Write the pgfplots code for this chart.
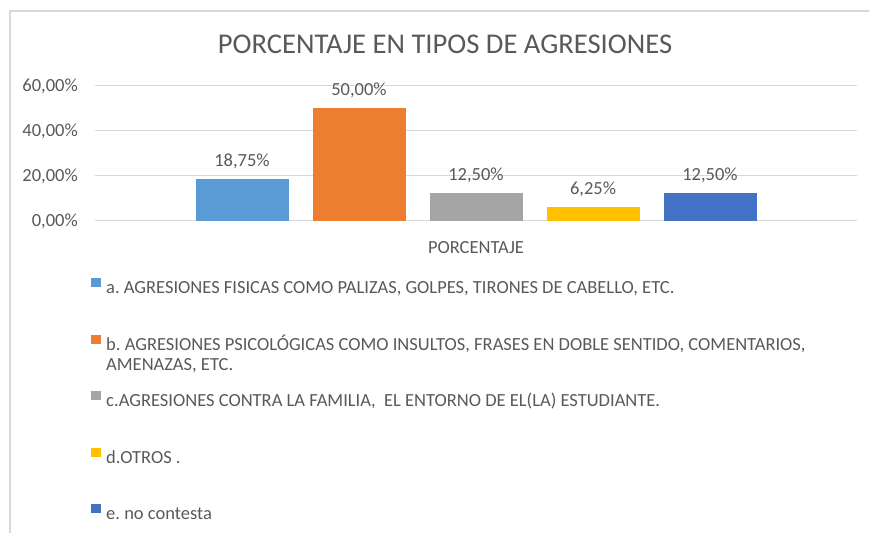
\documentclass[border=0pt]{standalone}
\usepackage{fontspec}
\setmainfont{Carlito}
\usepackage{pgfplots}
\pgfplotsset{compat=1.18}
\definecolor{txt}{HTML}{595959}
\definecolor{grd}{HTML}{D9D9D9}
\definecolor{c1}{HTML}{5B9BD5}
\definecolor{c2}{HTML}{ED7D31}
\definecolor{c3}{HTML}{A5A5A5}
\definecolor{c4}{HTML}{FFC000}
\definecolor{c5}{HTML}{4472C4}
\newcommand{\lf}{\fontsize{18.5bp}{20bp}\selectfont}
\frenchspacing
\begin{document}
\begin{tikzpicture}[x=1bp,y=1bp]
\useasboundingbox (0,0) rectangle (869,533);
\draw[grd, line width=1.3bp] (10,0) -- (10,522) -- (869,522);
\node[anchor=base, text=txt, font=\fontsize{28.6bp}{32bp}\selectfont, inner sep=0pt] at (445,479) {PORCENTAJE EN TIPOS DE AGRESIONES};
\begin{axis}[at={(95bp,312bp)}, anchor=south west, scale only axis,
 width=762bp, height=135bp,
 ymin=0, ymax=60, xmin=-1, xmax=1,
 ybar=24bp, bar width=93bp,
 axis line style={draw=none}, major tick length=0pt,
 ymajorgrids, grid style={grd, line width=1bp},
 ytick={0,20,40,60}, yticklabels={{0,00\%},{20,00\%},{40,00\%},{60,00\%}},
 xtick={0}, xticklabels={PORCENTAJE},
 tick label style={text=txt, font=\lf},
 yticklabel style={inner sep=0pt, xshift=-17bp},
 xticklabel style={inner sep=0pt, anchor=base, yshift=-33bp},
 nodes near coords={\pgfmathprintnumber[fixed,fixed zerofill,precision=2,use comma,assume math mode=true]{\pgfplotspointmeta}\%},
 every node near coord/.append style={text=txt, font=\lf, anchor=base, inner sep=0pt, yshift=12.5bp},
 legend cell align=left,
 legend style={draw=none, fill=none, inner sep=0pt, at={(-0.00525,-0.422)}, anchor=north west,
   row sep=37bp, column sep=5.5bp,
   nodes={inner sep=0pt, text=txt, font=\lf, text height=12bp, text depth=4bp}},
 legend image code/.code={\fill[#1,draw=none] (0bp,2.5bp) rectangle (9.5bp,11.5bp);},
]
\addplot[fill=c1, draw=none] coordinates {(0,18.75)};
\addlegendentry{a. AGRESIONES FISICAS COMO PALIZAS, GOLPES, TIRONES DE CABELLO, ETC.}
\addplot[fill=c2, draw=none] coordinates {(0,50)};
\addlegendentry{\raisebox{0pt}[12bp][4bp]{\begin{tabular}[t]{@{}l@{}}b. AGRESIONES PSICOLÓGICAS COMO INSULTOS, FRASES EN DOBLE SENTIDO, COMENTARIOS,\\AMENAZAS, ETC.\end{tabular}}}
\addplot[fill=c3, draw=none] coordinates {(0,12.5)};
\addlegendentry{c.AGRESIONES CONTRA LA FAMILIA,\ \ EL ENTORNO DE EL(LA) ESTUDIANTE.}
\addplot[fill=c4, draw=none] coordinates {(0,6.25)};
\addlegendentry{d.OTROS .}
\addplot[fill=c5, draw=none] coordinates {(0,12.5)};
\addlegendentry{e. no contesta}
\end{axis}
\end{tikzpicture}
\end{document}
